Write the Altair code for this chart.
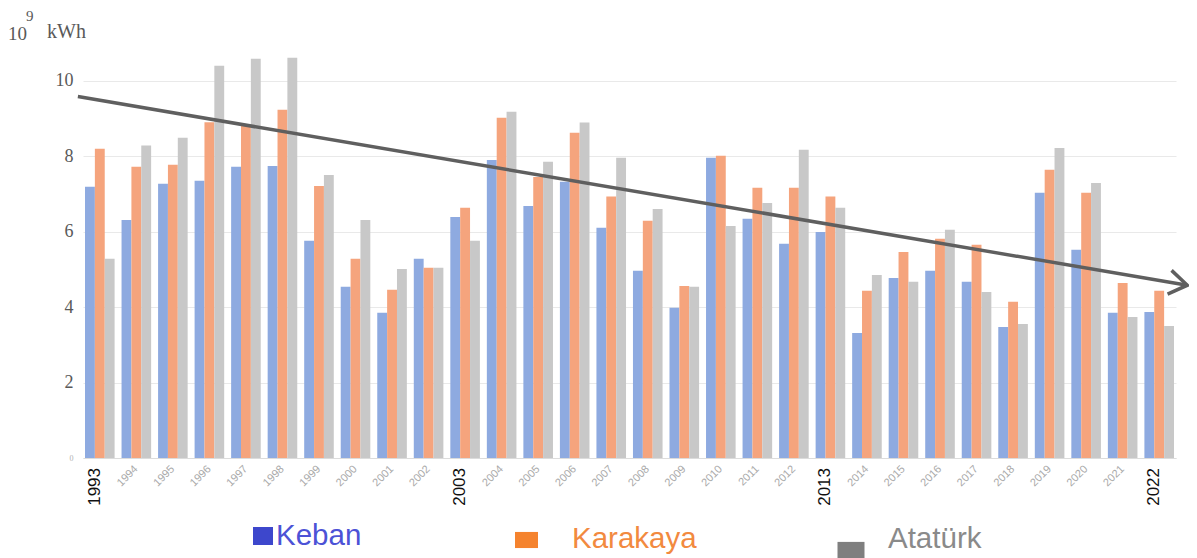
import altair as alt
import pandas as pd

# ---------------- data ----------------
years = list(range(1993, 2023))
series_names = ["Keban", "Karakaya", "Atatürk"]
keban = [7.19, 6.31, 7.27, 7.35, 7.72, 7.74, 5.76, 4.54, 3.85, 5.28,
         6.39, 7.90, 6.68, 7.32, 6.10, 4.96, 3.98, 7.96, 6.34, 5.68,
         5.99, 3.31, 4.77, 4.96, 4.67, 3.47, 7.03, 5.52, 3.85, 3.87]
karakaya = [8.20, 7.72, 7.77, 8.90, 8.80, 9.23, 7.21, 5.28, 4.46, 5.04,
            6.63, 9.02, 7.45, 8.62, 6.93, 6.29, 4.56, 8.01, 7.16, 7.16,
            6.93, 4.43, 5.46, 5.81, 5.65, 4.14, 7.64, 7.03, 4.64, 4.43]
ataturk = [5.28, 8.28, 8.49, 10.40, 10.58, 10.61, 7.50, 6.31, 5.01, 5.04,
           5.76, 9.18, 7.85, 8.89, 7.96, 6.60, 4.54, 6.15, 6.76, 8.17,
           6.63, 4.85, 4.67, 6.05, 4.40, 3.55, 8.22, 7.29, 3.74, 3.50]
highlight_years = [1993, 2003, 2013, 2022]
y_ticks = [0, 2, 4, 6, 8, 10]
# hand-drawn trend arrow (position in year units, value)
trend_pos = [1992.40, 2022.77]
trend_values = [9.58, 4.58]

# ---------------- layout / style ----------------
PLOT_W, PLOT_H = 1093, 415
PI, PO = 0.19, 0.055
n = len(years)
x_left = years[0] - PO - (1 - PI) / 2
x_right = years[0] + n - 0.5 + PO - PI / 2

bar_colors = ["#8eaae0", "#f5a47d", "#c8c8c8"]
legend_sw = ["#3d47cc", "#f5832e", "#7f7f7f"]
legend_tx = ["#4c52d6", "#f28a3f", "#8a8a8a"]

df = pd.DataFrame({
    "year": years * 3,
    "series": [s for s in series_names for _ in years],
    "value": keban + karakaya + ataturk,
})

yscale = alt.Scale(domain=[0, 11], nice=False)
hl_expr = "indexof([" + ",".join(str(y) for y in highlight_years) + "], datum.value) >= 0 ? '' : datum.label"

y_axis = alt.Axis(values=y_ticks, ticks=False, domain=False, grid=True,
                  gridColor="#e9e9e9", gridWidth=1, labelFont="Liberation Serif",
                  labelFontSize={"condition": {"test": "datum.value == 0", "value": 8}, "value": 18},
                  labelColor={"condition": {"test": "datum.value == 0", "value": "#b0b0b0"}, "value": "#595959"},
                  labelPadding=10)

bars = alt.Chart(df).mark_bar().encode(
    x=alt.X("year:O", title=None,
            scale=alt.Scale(paddingInner=PI, paddingOuter=PO, round=False),
            axis=alt.Axis(labelExpr=hl_expr, labelAngle=-45, labelAlign="right",
                          labelBaseline="middle", labelFontSize=11, labelColor="#a9a9a9",
                          labelFont="Liberation Sans", labelPadding=9, ticks=False,
                          domain=True, domainColor="#dcdcdc", grid=False)),
    xOffset=alt.XOffset("series:N", sort=series_names,
                        scale=alt.Scale(domain=series_names, paddingInner=0, paddingOuter=0)),
    y=alt.Y("value:Q", title=None, scale=yscale, axis=y_axis),
    color=alt.Color("series:N", scale=alt.Scale(domain=series_names, range=bar_colors), legend=None),
)

hl = alt.Chart(pd.DataFrame({"year": highlight_years})).mark_text(
    angle=270, align="right", baseline="alphabetic", fontSize=17,
    font="Liberation Sans Narrow, Liberation Sans", color="#111111"
).encode(x=alt.X("year:O"), y=alt.value(PLOT_H + 10), text="year:O")

def label(txt, x, y, size, color, font="Liberation Sans", align="left"):
    return alt.Chart(pd.DataFrame({"t": [txt]})).mark_text(
        align=align, baseline="alphabetic", fontSize=size, font=font, color=color
    ).encode(x=alt.value(x), y=alt.value(y), text="t:N")

def swatch(x, y, size, shape, color):
    return alt.Chart(pd.DataFrame({"t": [0]})).mark_point(
        shape=shape, size=size, filled=True, fill=color, strokeWidth=0, opacity=1
    ).encode(x=alt.value(x), y=alt.value(y))

extras = [
    label("10", -75, -3, 19, "#595959", "Liberation Serif"),
    label("9", -57, -22, 15, "#595959", "Liberation Serif"),
    label("kWh", -36, -5, 20, "#595959", "Liberation Serif"),
]
leg_sq = [(180, 493, 400, "M-1,-0.9H1V0.9H-1Z"),
          (443.5, 497, 529, "M-1,-0.7H1V0.7H-1Z"),
          (768, 507, 729, "M-1,-0.6H1V0.6H-1Z")]
leg_txt = [(193, 502), (489, 505), (805, 505)]
for i, name in enumerate(series_names):
    sx, sy, ss, shp = leg_sq[i]
    extras.append(swatch(sx, sy, ss, shp, legend_sw[i]))
    tx, ty = leg_txt[i]
    extras.append(label(name, tx, ty, 29.5, legend_tx[i]))

trend_df = pd.DataFrame({"pos": trend_pos, "value": trend_values})
tx_enc = alt.X("pos:Q", scale=alt.Scale(domain=[x_left, x_right], nice=False, zero=False), axis=None)
ty_enc = alt.Y("value:Q", title=None, scale=yscale, axis=y_axis)
line = alt.Chart(trend_df).mark_line(color="#5f5f5f", strokeWidth=3.5, clip=False).encode(x=tx_enc, y=ty_enc)
head = alt.Chart(trend_df.iloc[[-1]]).mark_point(
    shape="M-1.5,-1L0,0L-1.5,1", size=576, angle=9.6, filled=False,
    stroke="#5f5f5f", strokeWidth=3.5, opacity=1, strokeJoin="miter"
).encode(x=tx_enc, y=ty_enc)

base = alt.layer(bars, hl, *extras)
trend = alt.layer(line, head)

chart = alt.layer(base, trend).resolve_scale(x="independent").properties(
    width=PLOT_W, height=PLOT_H,
    autosize=alt.AutoSizeParams(type="none"),
    padding={"left": 75, "top": 35, "right": 13, "bottom": 100},
).configure_view(stroke=None)

chart.save("out.html", embed_options={"renderer": "svg", "actions": False})
